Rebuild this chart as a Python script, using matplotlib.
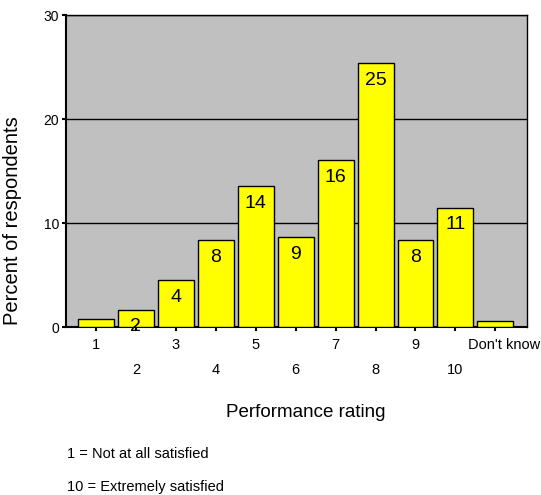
import matplotlib.pyplot as plt
import numpy as np

plt.rcParams['font.family'] = ['Liberation Sans', 'DejaVu Sans']

categories = ["1", "2", "3", "4", "5", "6", "7", "8", "9", "10", "Don't know"]
percent = [0.8, 1.7, 4.5, 8.4, 13.6, 8.7, 16.1, 25.4, 8.4, 11.5, 0.6]
bar_labels = [None, "2", "4", "8", "14", "9", "16", "25", "8", "11", None]

fig = plt.figure(figsize=(5.41, 4.95), dpi=100)
ax = fig.add_axes([0.122, 0.339, 0.852, 0.630])
ax.set_facecolor("#c0c0c0")

x = np.arange(len(categories))
ax.bar(x, percent, width=0.9, color="#ffff00", edgecolor="black", linewidth=1.0, zorder=3)

for xi, val, lab in zip(x, percent, bar_labels):
    if lab is not None:
        ax.text(xi, val - 0.85, lab, ha="center", va="top", fontsize=14, zorder=4)

ax.set_xlim(-0.75, len(categories) - 0.21)
ax.set_ylim(0, 30)
ax.set_yticks([0, 10, 20, 30])
ax.set_yticklabels(["0", "10", "20", "30"], fontsize=10)
ax.yaxis.grid(True, color="black", linewidth=1.0, zorder=1)
ax.tick_params(axis="y", direction="out", length=3, width=1.5, pad=2)

# alternate tick labels on two rows so the long one fits
ax.set_xticks(x)
ax.set_xticklabels([])
ax.tick_params(axis="x", direction="out", length=3, width=1.5)
trans = ax.get_xaxis_transform()
for i, name in enumerate(categories):
    row = -0.035 if i % 2 == 0 else -0.115
    shift = 0.22 if i == len(categories) - 1 else 0
    ax.text(i + shift, row, name, transform=trans, ha="center", va="top",
            fontsize=10.5, clip_on=False)

for side in ["top", "right"]:
    ax.spines[side].set_linewidth(1.0)
ax.spines["left"].set_linewidth(1.5)
ax.spines["bottom"].set_linewidth(1.5)

ax.set_ylabel("Percent of respondents", fontsize=14.5)
ax.yaxis.set_label_coords(-0.095, 0.343)
fig.text(0.565, 0.167, "Performance rating", ha="center", va="center", fontsize=13.5)
fig.text(0.124, 0.083, "1 = Not at all satisfied", ha="left", va="center", fontsize=10.5)
fig.text(0.124, 0.017, "10 = Extremely satisfied", ha="left", va="center", fontsize=10.5)

fig.savefig("out.png", dpi=100)
